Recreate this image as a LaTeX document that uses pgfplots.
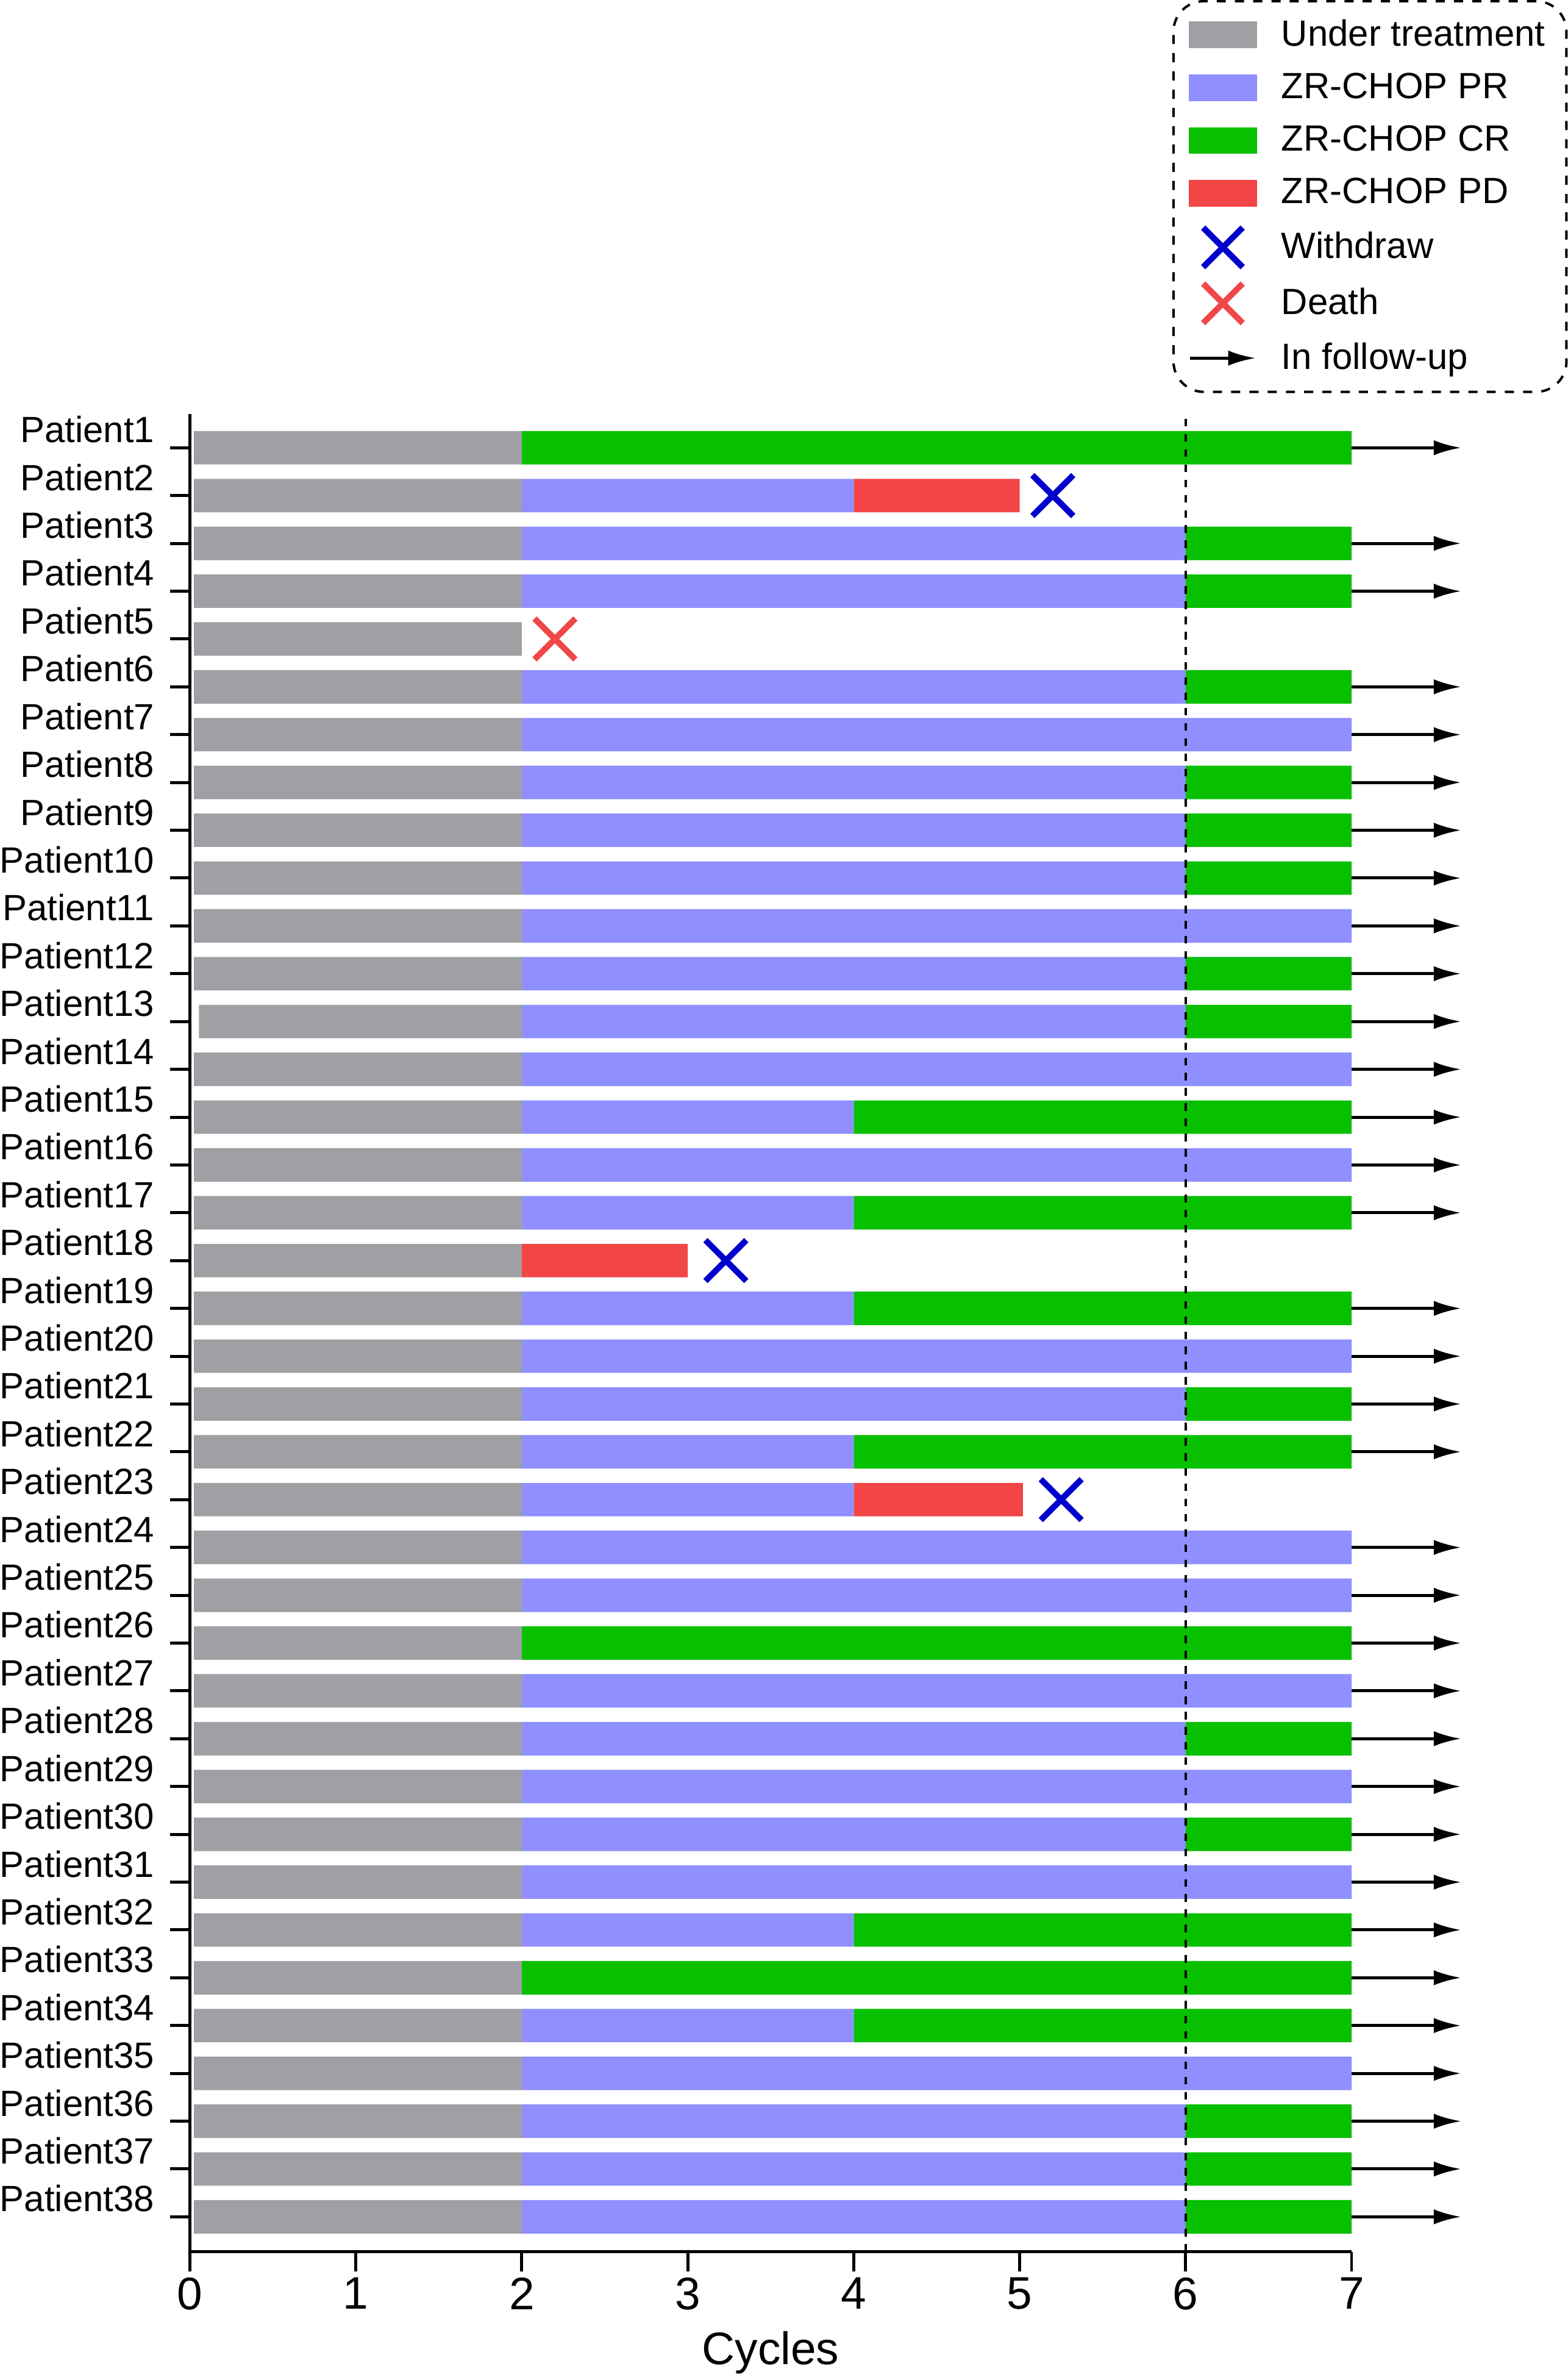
\documentclass[border=0pt]{standalone}
\usepackage{pgfplots}
\pgfplotsset{compat=1.18}
\usepackage{pgfplotstable}
\usepackage{fontspec}
\setmainfont{Liberation Sans}
\usetikzlibrary{arrows.meta}
\definecolor{ugray}{HTML}{A0A0A4}
\definecolor{upr}{HTML}{8F8FFF}
\definecolor{ucr}{HTML}{08C000}
\definecolor{upd}{HTML}{F24545}
\definecolor{uwd}{HTML}{0000CC}
\definecolor{udeath}{HTML}{F04848}

% p = patient number, off = blank before start, gray/pr/cr/pd = lengths (cycles)
\pgfplotstableread{
p off gray pr cr pd
1 0.025 1.975 0 5 0
2 0.025 1.975 2 0 1
3 0.025 1.975 4 1 0
4 0.025 1.975 4 1 0
5 0.025 1.975 0 0 0
6 0.025 1.975 4 1 0
7 0.025 1.975 5 0 0
8 0.025 1.975 4 1 0
9 0.025 1.975 4 1 0
10 0.025 1.975 4 1 0
11 0.025 1.975 5 0 0
12 0.025 1.975 4 1 0
13 0.055 1.945 4 1 0
14 0.025 1.975 5 0 0
15 0.025 1.975 2 3 0
16 0.025 1.975 5 0 0
17 0.025 1.975 2 3 0
18 0.025 1.975 0 0 1
19 0.025 1.975 2 3 0
20 0.025 1.975 5 0 0
21 0.025 1.975 4 1 0
22 0.025 1.975 2 3 0
23 0.025 1.975 2 0 1.02
24 0.025 1.975 5 0 0
25 0.025 1.975 5 0 0
26 0.025 1.975 0 5 0
27 0.025 1.975 5 0 0
28 0.025 1.975 4 1 0
29 0.025 1.975 5 0 0
30 0.025 1.975 4 1 0
31 0.025 1.975 5 0 0
32 0.025 1.975 2 3 0
33 0.025 1.975 0 5 0
34 0.025 1.975 2 3 0
35 0.025 1.975 5 0 0
36 0.025 1.975 4 1 0
37 0.025 1.975 4 1 0
38 0.025 1.975 4 1 0
}\bars

\pgfplotstableread{
p x
1 7
3 7
4 7
6 7
7 7
8 7
9 7
10 7
11 7
12 7
13 7
14 7
15 7
16 7
17 7
19 7
20 7
21 7
22 7
24 7
25 7
26 7
27 7
28 7
29 7
30 7
31 7
32 7
33 7
34 7
35 7
36 7
37 7
38 7
}\follow

\pgfplotstableread{
p x
2 5.2
18 3.23
23 5.25
}\withdraw

\pgfplotstableread{
p x
5 2.2
}\death

\begin{document}
\begin{tikzpicture}
\begin{axis}[
  name=main,
  scale only axis,
  width=382pt, height=604pt,
  xmin=0, xmax=7, ymin=0.27, ymax=38.7,
  xbar stacked, bar width=11pt,
  clip=false,
  axis x line*=bottom, axis y line*=left,
  axis line style={-, line width=1pt},
  every tick/.style={black, line width=1pt},
  tick align=outside, major tick length=6.5pt,
  xtick={0,1,2,3,4,5,6,7},
  ytick={1,...,38},
  yticklabels={Patient38,Patient37,Patient36,Patient35,Patient34,Patient33,Patient32,Patient31,Patient30,Patient29,Patient28,Patient27,Patient26,Patient25,Patient24,Patient23,Patient22,Patient21,Patient20,Patient19,Patient18,Patient17,Patient16,Patient15,Patient14,Patient13,Patient12,Patient11,Patient10,Patient9,Patient8,Patient7,Patient6,Patient5,Patient4,Patient3,Patient2,Patient1},
  yticklabel style={font=\fontsize{12}{14}\selectfont, inner xsep=0pt, xshift=-5pt, yshift=6pt},
  xticklabel style={font=\fontsize{15}{18}\selectfont, yshift=1.5pt, /pgf/number format/assume math mode=true},
  xlabel={Cycles},
  xlabel style={font=\fontsize{15}{18}\selectfont, inner ysep=2pt, yshift=-1.5pt},
  legend style={at={(1.186,1.2255)}, anchor=north east,
    draw=black, dashed, line width=0.8pt, rounded corners=10pt,
    font=\fontsize{12}{14}\selectfont,
    row sep=3.4pt, column sep=6pt, inner xsep=5pt, inner ysep=4pt,
    cells={anchor=west}},
  legend cell align=left,
]
\addplot[draw=none, fill=none, forget plot] table[x=off, y expr=39-\thisrow{p}] {\bars};
\addplot[draw=none, fill=ugray, forget plot] table[x=gray, y expr=39-\thisrow{p}] {\bars};
\addplot[draw=none, fill=upr, forget plot] table[x=pr, y expr=39-\thisrow{p}] {\bars};
\addplot[draw=none, fill=ucr, forget plot] table[x=cr, y expr=39-\thisrow{p}] {\bars};
\addplot[draw=none, fill=upd, forget plot] table[x=pd, y expr=39-\thisrow{p}] {\bars};

\addlegendimage{legend image code/.code={\fill[ugray, sharp corners, solid] (0pt,-4pt) rectangle (21.5pt,4pt);}}
\addlegendentry{Under treatment}
\addlegendimage{legend image code/.code={\fill[upr, sharp corners, solid] (0pt,-4pt) rectangle (21.5pt,4pt);}}
\addlegendentry{ZR-CHOP PR}
\addlegendimage{legend image code/.code={\fill[ucr, sharp corners, solid] (0pt,-4pt) rectangle (21.5pt,4pt);}}
\addlegendentry{ZR-CHOP CR}
\addlegendimage{legend image code/.code={\fill[upd, sharp corners, solid] (0pt,-4pt) rectangle (21.5pt,4pt);}}
\addlegendentry{ZR-CHOP PD}
\addlegendimage{legend image code/.code={\draw[uwd, solid, sharp corners, line width=2pt] (4.25pt,-6.5pt) -- (17.25pt,6.5pt) (4.25pt,6.5pt) -- (17.25pt,-6.5pt);}}
\addlegendentry{Withdraw}
\addlegendimage{legend image code/.code={\draw[udeath, solid, sharp corners, line width=2pt] (4.25pt,-6.5pt) -- (17.25pt,6.5pt) (4.25pt,6.5pt) -- (17.25pt,-6.5pt);}}
\addlegendentry{Death}
\addlegendimage{legend image code/.code={\draw[black, solid, sharp corners, line width=1pt, -{Latex[length=9pt,width=5pt]}] (0pt,0pt) -- (21.5pt,0pt);}}
\addlegendentry{In follow-up}
\end{axis}

\begin{axis}[
  scale only axis,
  width=382pt, height=604pt,
  xmin=0, xmax=7, ymin=0.27, ymax=38.7,
  hide axis, clip=false,
]
\addplot[black, line width=0.8pt, dash pattern=on 2.5pt off 2.5pt] coordinates {(6,0.27) (6,38.7)};
\draw[black, line width=1pt] (axis cs:0,0.27) -- ++(0pt,-6.5pt);
\addplot[black, line width=1pt, -{Latex[length=9pt,width=5pt]}, quiver={u=0.66, v=0}] table[x=x, y expr=39-\thisrow{p}] {\follow};
\addplot[only marks, mark=x, mark size=9.5pt, uwd, mark options={line width=2pt}] table[x=x, y expr=39-\thisrow{p}] {\withdraw};
\addplot[only marks, mark=x, mark size=9.5pt, udeath, mark options={line width=2pt}] table[x=x, y expr=39-\thisrow{p}] {\death};
\end{axis}
\end{tikzpicture}
\end{document}
